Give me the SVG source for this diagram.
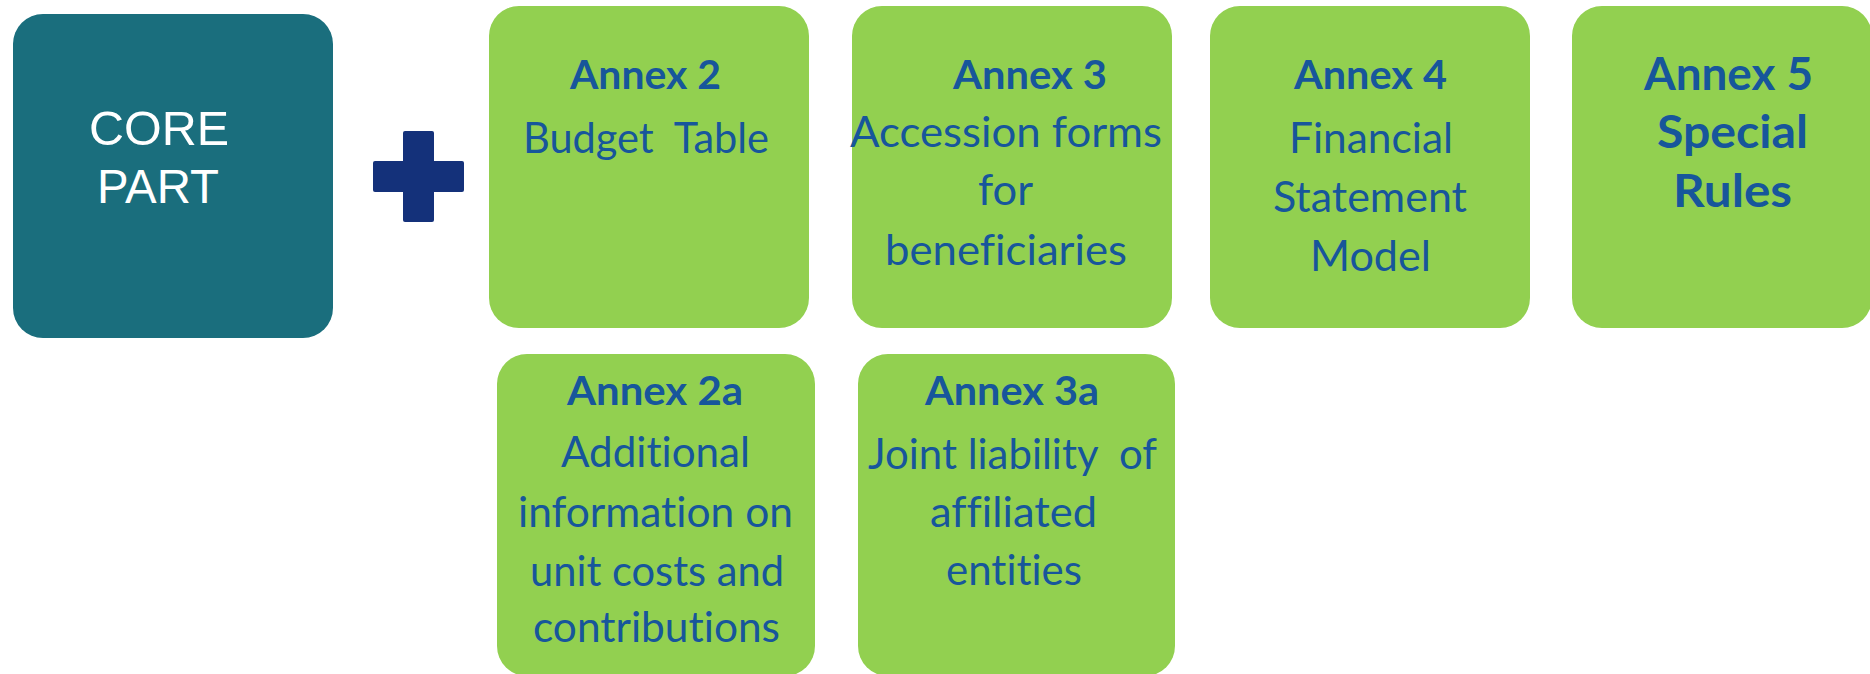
<svg xmlns="http://www.w3.org/2000/svg" width="1870" height="674" viewBox="0 0 1870 674">
<style>
.core{fill:#1A6E7D}
.annex{fill:#92D050}
.ct{font-family:"Liberation Sans",Arial,sans-serif;font-size:48px;fill:#FFFFFF}
.h{font-family:Lato,"Open Sans",sans-serif;font-weight:bold;font-size:40px;fill:#17569B;font-variant-ligatures:none}
.hb{font-family:Lato,"Open Sans",sans-serif;font-weight:bold;font-size:46px;fill:#17569B;font-variant-ligatures:none}
.t{font-family:Lato,"Open Sans",sans-serif;font-size:42px;fill:#17569B;white-space:pre;font-variant-ligatures:none}
</style>
<rect width="1870" height="674" fill="#FFFFFF"/>
<g id="core">
<rect class="core" x="13" y="14" width="320" height="324" rx="30"/>
<text class="ct" x="89" y="145" textLength="140" lengthAdjust="spacingAndGlyphs">CORE</text>
<text class="ct" x="97" y="203" textLength="122" lengthAdjust="spacingAndGlyphs">PART</text>
</g>
<g id="plus">
<rect x="373" y="161" width="91" height="31" rx="2" fill="#14317A"/>
<rect x="403" y="131" width="31" height="91" rx="2" fill="#14317A"/>
</g>
<g id="annex2">
<rect class="annex" x="489" y="6" width="320" height="322" rx="30"/>
<text class="h" x="570" y="89" textLength="151" lengthAdjust="spacingAndGlyphs">Annex 2</text>
<text class="t" x="523" y="153" textLength="246" lengthAdjust="spacingAndGlyphs">Budget  Table</text>
</g>
<g id="annex3">
<rect class="annex" x="852" y="6" width="320" height="322" rx="30"/>
<text class="h" x="953" y="89" textLength="154" lengthAdjust="spacingAndGlyphs">Annex 3</text>
<text class="t" x="850" y="147" textLength="312" lengthAdjust="spacingAndGlyphs">Accession forms</text>
<text class="t" x="978" y="205" textLength="55" lengthAdjust="spacingAndGlyphs">for</text>
<text class="t" x="885" y="265" textLength="242" lengthAdjust="spacingAndGlyphs">beneficiaries</text>
</g>
<g id="annex4">
<rect class="annex" x="1210" y="6" width="320" height="322" rx="30"/>
<text class="h" x="1294" y="89" textLength="153" lengthAdjust="spacingAndGlyphs">Annex 4</text>
<text class="t" x="1289" y="153" textLength="164" lengthAdjust="spacingAndGlyphs">Financial</text>
<text class="t" x="1273" y="212" textLength="194" lengthAdjust="spacingAndGlyphs">Statement</text>
<text class="t" x="1310" y="271" textLength="121" lengthAdjust="spacingAndGlyphs">Model</text>
</g>
<g id="annex5">
<rect class="annex" x="1572" y="6" width="300" height="322" rx="30"/>
<text class="hb" x="1644" y="90" textLength="169" lengthAdjust="spacingAndGlyphs">Annex 5</text>
<text class="hb" x="1657" y="148" textLength="151" lengthAdjust="spacingAndGlyphs">Special</text>
<text class="hb" x="1673" y="207" textLength="119" lengthAdjust="spacingAndGlyphs">Rules</text>
</g>
<g id="annex2a">
<rect class="annex" x="497" y="354" width="318" height="322" rx="30"/>
<text class="h" x="567" y="405" textLength="176" lengthAdjust="spacingAndGlyphs">Annex 2a</text>
<text class="t" x="561" y="467" textLength="189" lengthAdjust="spacingAndGlyphs">Additional</text>
<text class="t" x="518" y="527" textLength="275" lengthAdjust="spacingAndGlyphs">information on</text>
<text class="t" x="530" y="586" textLength="254" lengthAdjust="spacingAndGlyphs">unit costs and</text>
<text class="t" x="533" y="642" textLength="247" lengthAdjust="spacingAndGlyphs">contributions</text>
</g>
<g id="annex3a">
<rect class="annex" x="858" y="354" width="317" height="322" rx="30"/>
<text class="h" x="925" y="405" textLength="174" lengthAdjust="spacingAndGlyphs">Annex 3a</text>
<text class="t" x="868" y="469" textLength="289" lengthAdjust="spacingAndGlyphs">Joint liability  of</text>
<text class="t" x="930" y="527" textLength="167" lengthAdjust="spacingAndGlyphs">affiliated</text>
<text class="t" x="946" y="585" textLength="136" lengthAdjust="spacingAndGlyphs">entities</text>
</g>
<g id="connectors"></g>
</svg>
